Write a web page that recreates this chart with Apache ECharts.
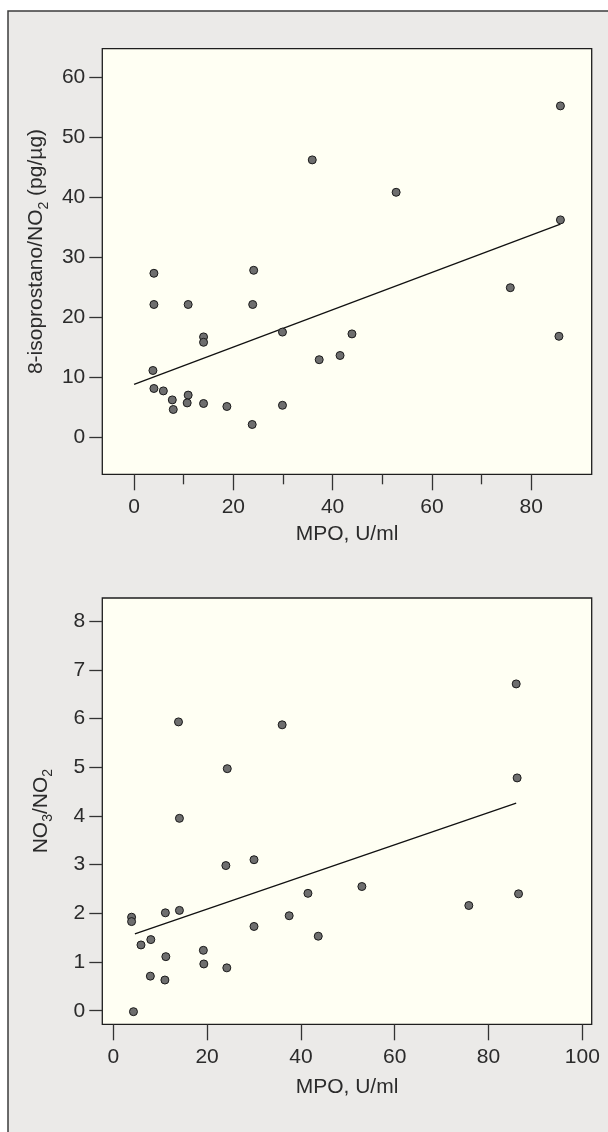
<!DOCTYPE html>
<html>
<head>
<meta charset="utf-8">
<script src="https://cdn.jsdelivr.net/npm/echarts@6/dist/echarts.min.js"></script>
<style>
html,body{margin:0;padding:0;background:#fff;}
#chart{width:608px;height:1132px;}
</style>
</head>
<body>
<div id="chart"></div>
<script>
// ---- Top panel: 8-isoprostano/NO2 vs MPO ----
var mpoTop = [85.9, 35.9, 52.8, 85.9, 4.0, 24.1, 4.0, 10.9, 23.9, 14.0, 14.0, 29.9, 37.3, 41.5, 43.9, 75.8, 85.6, 3.8, 4.0, 5.9, 7.7, 7.9, 10.9, 10.7, 14.0, 18.7, 23.8, 29.9];
var isoTop = [55.3, 46.3, 40.9, 36.3, 27.4, 27.9, 22.2, 22.2, 22.2, 16.8, 15.9, 17.6, 13.0, 13.7, 17.3, 25.0, 16.9, 11.2, 8.2, 7.8, 6.3, 4.7, 7.1, 5.8, 5.7, 5.2, 2.2, 5.4];
var fitTopX = [0, 85.9];
var fitTopY = [8.9, 35.6];
var xTicksTop = [0, 20, 40, 60, 80];
var xMinorTop = [10, 30, 50, 70];
var yTicksTop = [0, 10, 20, 30, 40, 50, 60];

// ---- Bottom panel: NO3/NO2 vs MPO ----
var mpoBot = [13.9, 36.0, 24.3, 14.1, 85.9, 86.1, 24.0, 30.0, 3.9, 3.9, 11.1, 14.1, 5.9, 8.0, 11.2, 7.9, 11.0, 19.2, 19.3, 24.2, 30.0, 37.5, 41.5, 43.7, 4.3, 53.0, 75.8, 86.4];
var ratioBot = [5.93, 5.87, 4.97, 3.95, 6.71, 4.78, 2.98, 3.10, 1.92, 1.83, 2.01, 2.06, 1.35, 1.46, 1.11, 0.71, 0.63, 1.24, 0.96, 0.88, 1.73, 1.95, 2.41, 1.53, -0.02, 2.55, 2.16, 2.40];
var fitBotX = [4.6, 85.9];
var fitBotY = [1.58, 4.26];
var xTicksBot = [0, 20, 40, 60, 80, 100];
var yTicksBot = [0, 1, 2, 3, 4, 5, 6, 7, 8];

var xTitle = 'MPO, U/ml';
var yTitleTop = '{n|8-isoprostano/NO}{s|2}{n| (pg/µg)}';
var yTitleBot = '{n|NO}{s|3}{n|/NO}{s|2}';

function pairs(xs, ys){ return xs.map(function(x,i){ return [x, ys[i]]; }); }

var FONT = "'Liberation Sans', Arial, Helvetica, sans-serif";
var TXT = '#2b2b2b';
var TICK = {color:'#333', width:1.3};
var FS = 21;
var rich = {
  n:{fontSize:FS, fontFamily:FONT, color:TXT, verticalAlign:'bottom', padding:[0,0,4,0]},
  s:{fontSize:14, fontFamily:FONT, color:TXT, verticalAlign:'bottom'}
};

function xMain(grid, min, max, ticks, len, nameGap){
  return {
    type:'value', gridIndex:grid, min:min, max:max, position:'bottom',
    name:xTitle, nameLocation:'middle', nameGap:nameGap,
    nameTextStyle:{fontSize:FS, fontFamily:FONT, color:TXT},
    axisLine:{show:false, onZero:false}, splitLine:{show:false},
    axisTick:{show:true, inside:false, length:len, lineStyle:TICK, customValues:ticks},
    axisLabel:{show:true, margin:22, fontSize:FS, fontFamily:FONT, color:TXT, customValues:ticks}
  };
}
function xMinor(grid, min, max, ticks, len){
  return {
    type:'value', gridIndex:grid, min:min, max:max, position:'bottom',
    axisLine:{show:false, onZero:false}, splitLine:{show:false},
    axisTick:{show:true, length:len, lineStyle:TICK, customValues:ticks},
    axisLabel:{show:false}
  };
}
function yMain(grid, min, max, ticks, title, nameGap, pad){
  return {
    type:'value', gridIndex:grid, min:min, max:max, position:'left',
    name:title, nameLocation:'middle', nameGap:nameGap, nameRotate:90,
    nameTextStyle:{fontSize:FS, fontFamily:FONT, color:TXT, rich:rich, padding:pad},
    axisLine:{show:false, onZero:false}, splitLine:{show:false},
    axisTick:{show:true, length:13, lineStyle:TICK, customValues:ticks},
    axisLabel:{show:true, margin:17, fontSize:FS, fontFamily:FONT, color:TXT, customValues:ticks}
  };
}

var chart = echarts.init(document.getElementById('chart'), null, {renderer:'canvas'});
chart.setOption({
  animation:false,
  backgroundColor:'#ffffff',
  graphic:[{
    type:'rect', z:-100, silent:true,
    shape:{x:8, y:11, width:720, height:1250},
    style:{fill:'#ebeae8', stroke:'#3c3c3c', lineWidth:1.5}
  }],
  grid:[
    {left:102.3, top:48.7, right:16.3, bottom:657.7, show:true, backgroundColor:'#fffff3', borderColor:'#1e1e1e', borderWidth:1.3},
    {left:102.3, top:598, right:16.3, bottom:107.7, show:true, backgroundColor:'#fffff3', borderColor:'#1e1e1e', borderWidth:1.3}
  ],
  xAxis:[
    xMain(0, -6.4, 92.2, xTicksTop, 16, 49),
    xMinor(0, -6.4, 92.2, xMinorTop, 10),
    xMain(1, -2.345, 102.0, xTicksBot, 16, 52)
  ],
  yAxis:[
    yMain(0, -6.1, 64.83, yTicksTop, yTitleTop, 47, [0,0,0,20]),
    yMain(1, -0.279, 8.474, yTicksBot, yTitleBot, 47, [0,0,0,0])
  ],
  series:[
    {type:'line', xAxisIndex:0, yAxisIndex:0, data:pairs(fitTopX, fitTopY), symbol:'none', lineStyle:{color:'#111', width:1.3}, z:2},
    {type:'scatter', xAxisIndex:0, yAxisIndex:0, data:pairs(mpoTop, isoTop), symbolSize:8,
      itemStyle:{color:'#6e6e6e', borderColor:'#1a1a1a', borderWidth:1, opacity:1}, z:3},
    {type:'line', xAxisIndex:2, yAxisIndex:1, data:pairs(fitBotX, fitBotY), symbol:'none', lineStyle:{color:'#111', width:1.3}, z:2},
    {type:'scatter', xAxisIndex:2, yAxisIndex:1, data:pairs(mpoBot, ratioBot), symbolSize:8,
      itemStyle:{color:'#6e6e6e', borderColor:'#1a1a1a', borderWidth:1, opacity:1}, z:3}
  ]
});
</script>
</body>
</html>
